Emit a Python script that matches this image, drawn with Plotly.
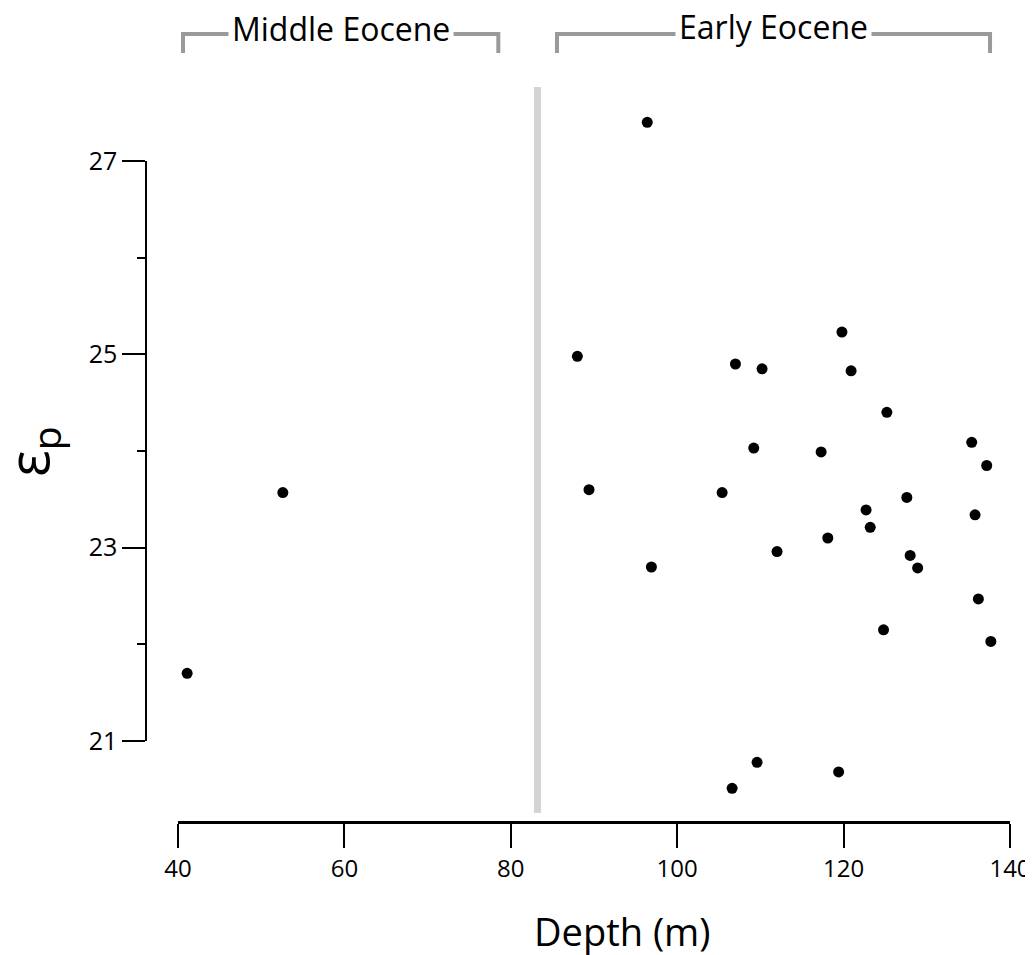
import plotly.graph_objects as go

# depth (m) and epsilon_p values
depth = [41.1, 52.6, 88.0, 89.4, 96.4, 96.9, 105.4, 107.0, 109.2, 110.2,
         109.6, 106.6, 112.0, 117.3, 118.1, 119.8, 119.4, 120.9, 122.7, 123.2,
         125.2, 124.8, 127.6, 128.0, 128.9, 135.4, 135.8, 137.2, 136.2, 137.7]
eps_p = [21.7, 23.57, 24.98, 23.60, 27.40, 22.80, 23.57, 24.90, 24.03, 24.85,
         20.78, 20.51, 22.96, 23.99, 23.10, 25.23, 20.68, 24.83, 23.39, 23.21,
         24.40, 22.15, 23.52, 22.92, 22.79, 24.09, 23.34, 23.85, 22.47, 22.03]

boundary_depth = 83.2
epochs = ["Middle Eocene", "Early Eocene"]
epoch_start = [40.6, 85.55]
epoch_end = [78.5, 137.6]
label_lift = [6, 8]

x_ticks = [40, 60, 80, 100, 120, 140]
y_ticks = [21, 23, 25, 27]

OFF = 8  # page body margin
W, H = 1033 - OFF, 955 - OFF
FONT = "Open Sans"


def px_x(p):
    return (p - OFF) / W


def px_y(p):
    return 1 - (p - OFF) / H


# y axis drawn from 161px (27) to 741px (21); data area a bit taller
y_px_per_unit = (741 - 161) / 6
y_lo = 21 - (825 - 741) / y_px_per_unit
y_hi = 27 + (161 - 95) / y_px_per_unit

fig = go.Figure()

fig.add_trace(go.Scatter(
    x=depth, y=eps_p, mode="markers", cliponaxis=False,
    marker=dict(color="black", size=11), showlegend=False
))
# empty trace so the visible y axis gets drawn
fig.add_trace(go.Scatter(x=[None], y=[None], yaxis="y2", showlegend=False,
                         hoverinfo="skip"))

# epoch boundary
fig.add_shape(type="line", xref="x", yref="paper",
              x0=boundary_depth, x1=boundary_depth, y0=px_y(813), y1=px_y(87),
              line=dict(color="#d3d3d3", width=7), layer="below")

# epoch brackets
for name, a, b, lift in zip(epochs, epoch_start, epoch_end, label_lift):
    top, leg = px_y(34), px_y(53)
    fig.add_shape(type="path", xref="x", yref="paper",
                  path=f"M {a},{leg} L {a},{top} L {b},{top} L {b},{leg}",
                  line=dict(color="#999b9b", width=4))
    fig.add_annotation(x=(a + b) / 2, y=top, xref="x", yref="paper",
                       xanchor="center", yanchor="middle",
                       text=name, showarrow=False, yshift=lift,
                       bgcolor="white", borderpad=3,
                       font=dict(family=FONT, size=32, color="black"))

# axis titles
fig.add_annotation(x=px_x(622), y=px_y(931), xref="paper", yref="paper",
                   xanchor="center", yanchor="middle", showarrow=False,
                   text="Depth (m)", font=dict(family=FONT, size=38, color="black"))
fig.add_annotation(x=px_x(30), y=px_y(452), xref="paper", yref="paper",
                   xanchor="center", yanchor="middle", showarrow=False, textangle=-90,
                   text="ε<sub>p</sub>", font=dict(family=FONT, size=56, color="black"))

fig.update_xaxes(
    domain=[px_x(178), px_x(1010)], range=[40, 140],
    anchor="free", position=px_y(822),
    showline=True, linecolor="black", linewidth=2.5,
    ticks="outside", ticklen=24, tickwidth=1.5, tickcolor="black",
    tickvals=x_ticks, showgrid=False, zeroline=False,
    tickfont=dict(family=FONT, size=24, color="black"),
    ticklabeloverflow="allow",
    automargin=False,
)
fig.update_layout(
    yaxis=dict(domain=[px_y(825), px_y(95)], range=[y_lo, y_hi],
               visible=False, showgrid=False, zeroline=False),
    yaxis2=dict(
        domain=[px_y(741), px_y(161)], range=[21, 27],
        anchor="free", position=px_x(146),
        showline=True, linecolor="black", linewidth=1.5,
        ticks="outside", ticklen=23, tickwidth=1.5, tickcolor="black",
        tickvals=y_ticks, showgrid=False, zeroline=False,
        minor=dict(ticks="outside", ticklen=8, tickwidth=1.5, tickcolor="black", dtick=1),
        tickfont=dict(family=FONT, size=25, color="black"),
        automargin=False,
    ),
    width=W, height=H,
    margin=dict(l=0, r=0, t=0, b=0),
    plot_bgcolor="rgba(0,0,0,0)", paper_bgcolor="white",
    showlegend=False,
)

fig.write_html("out.html")
